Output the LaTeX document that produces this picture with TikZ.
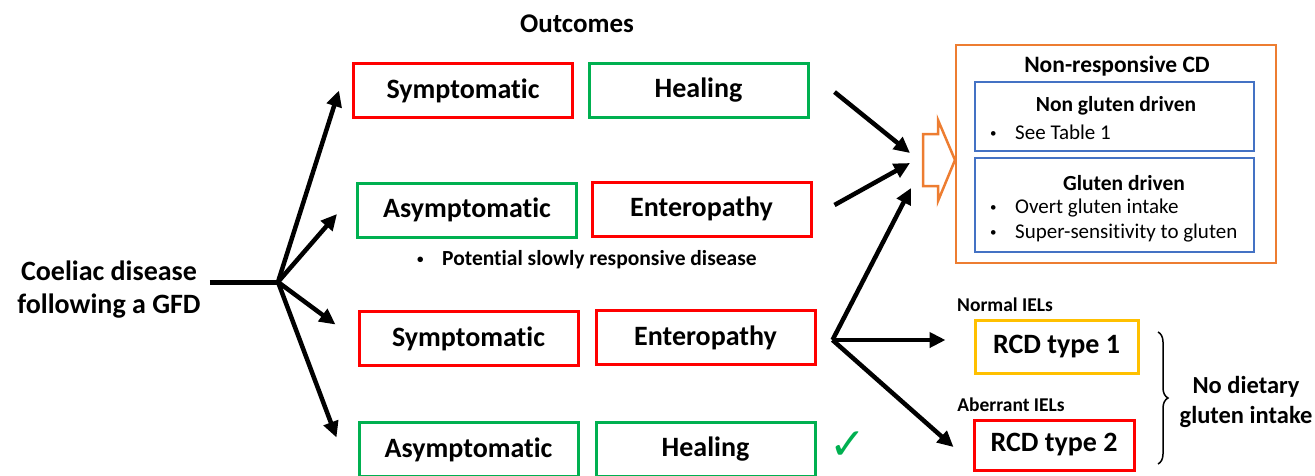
\documentclass[tikz,border=0pt]{standalone}
\usepackage{fontspec}
\setmainfont{Carlito}[Ligatures=NoCommon]
\newfontfamily\checkfont{DejaVu Sans}
\usetikzlibrary{arrows.meta,decorations.pathreplacing}
\definecolor{cdred}{RGB}{255,0,0}
\definecolor{cdgreen}{RGB}{0,176,80}
\definecolor{cdorange}{RGB}{237,125,49}
\definecolor{cdblue}{RGB}{68,114,196}
\definecolor{cdgold}{RGB}{255,192,0}
\newcommand{\bigbf}{\fontsize{28}{33}\selectfont\bfseries}
\newcommand{\midbf}{\fontsize{21.5}{26}\selectfont\bfseries}
\newcommand{\smallrm}{\fontsize{21}{25}\selectfont}
\newcommand{\bulletline}[1]{\makebox[26pt][l]{\hspace{1pt}\raisebox{2pt}{\fontsize{13}{13}\selectfont\textbullet}}#1}

\tikzset{
  outbox/.style={draw, line width=3, minimum width=219, minimum height=54, inner sep=0, font=\bigbf},
  redbox/.style={outbox, draw=cdred},
  greenbox/.style={outbox, draw=cdgreen},
  bluebox/.style={draw=cdblue, line width=2.5, minimum width=279, inner sep=0},
  arr/.style={line width=4.5, -{Triangle[length=16, width=15]}},
  label/.style={inner sep=0, font=\midbf}
}

\begin{document}
\begin{tikzpicture}[x=1pt, y=-1pt]
\useasboundingbox (0,0) rectangle (1315,475);

% start and the four outcomes
\node[inner sep=0, align=center, font=\bigbf] (coel) at (109,290) {Coeliac disease\\following a GFD};
\coordinate (fork) at (278,282);
\node[font=\fontsize{27}{32}\selectfont\bfseries, inner sep=0] (outc) at (577,24) {Outcomes};

\node[redbox] (sym1) at (463,90.5) {Symptomatic};
\node[greenbox] (heal1) at (698.5,90.5) {Healing};
\node[greenbox] (asym2) at (467,210) {Asymptomatic};
\node[redbox] (ent2) at (701.5,209) {Enteropathy};
\node[font=\midbf, inner sep=0, anchor=west] (pot) at (416,260) {\bulletline{Potential slowly responsive disease}};
\node[redbox] (sym3) at (468.5,338.5) {Symptomatic};
\node[redbox] (ent3) at (705.5,337.5) {Enteropathy};
\node[greenbox] (asym4) at (468.5,449.5) {Asymptomatic};
\node[greenbox] (heal4) at (705.5,449.5) {Healing};
\node[text=cdgreen, font=\checkfont\fontsize{44}{44}\selectfont, inner sep=0] (tick) at (848,446) {✓};

\draw[line width=5] ([xshift=9]coel.east |- fork) -- (fork);
\draw[arr] (fork) -- ([xshift=-13]sym1.west);
\draw[arr] (fork) -- ([xshift=-19,yshift=-4]asym2.west);
\draw[arr] (fork) -- ([xshift=-22,yshift=14]sym3.west);
\draw[arr] (fork) -- ([xshift=-21,yshift=12]asym4.west);

% non-responsive CD
\node[draw=cdorange, line width=2.5, minimum width=320, minimum height=218] (nrcd) at (1116,154) {};
\node[label, font=\fontsize{23.5}{28}\selectfont\bfseries] (nrtitle) at (1117,66) {Non-responsive CD};
\node[bluebox, minimum height=69] (ngd) at (1114.5,116.5) {};
\node[label] (ngdt) at (1116,106) {Non gluten driven};
\node[inner sep=0, anchor=west, font=\smallrm] (ngd1) at (989,132) {\bulletline{See Table 1}};
\node[bluebox, minimum height=94] (gd) at (1114.5,205) {};
\node[label] (gdt) at (1124,183) {Gluten driven};
\node[inner sep=0, anchor=west, font=\smallrm] (gd1) at (989,208) {\bulletline{Overt gluten intake}};
\node[inner sep=0, anchor=west, font=\smallrm] (gd2) at (989,233) {\bulletline{Super-sensitivity to gluten}};
\draw[cdorange, line width=2.5] (923,134) -- (938,134) -- (938,120) -- (955,160)
  -- (938,201) -- (938,186) -- (923,186) -- cycle;

\coordinate (in1) at (910,153);
\coordinate (in2) at (910,163);
\coordinate (in3) at (911,188);
\coordinate (fork2) at ([xshift=16,yshift=-2.5]ent3.east);
\draw[arr] ([xshift=25,yshift=-1.5]heal1.east) -- (in1);
\draw[arr] ([xshift=22,yshift=4]ent2.east) -- (in2);

% refractory CD
\node[draw=cdgold, line width=3, minimum width=163, minimum height=53, inner sep=0, font=\bigbf] (rcd1) at (1056.5,346.5) {RCD type 1};
\node[draw=cdred, line width=3, minimum width=160, minimum height=50, inner sep=0, font=\bigbf] (rcd2) at (1054,445) {RCD type 2};
\node[label, font=\fontsize{19.5}{23}\selectfont\bfseries] (niel) at (1005,305) {Normal IELs};
\node[label, font=\fontsize{19.5}{23}\selectfont\bfseries] (aiel) at (1011,405) {Aberrant IELs};
\draw[arr] (fork2) -- (in3);
\draw[arr] (fork2) -- ([xshift=-28,yshift=6.5]rcd1.west);
\draw[arr] (fork2) -- ([xshift=-19,yshift=-2]rcd2.west);

\draw[line width=1.5, decorate, decoration={brace, amplitude=10}] (1158,332) -- (1158,464);
\node[inner sep=0, align=center, font=\fontsize{24.5}{30}\selectfont\bfseries] (nodiet) at (1246,402) {No dietary\\gluten intake};
\end{tikzpicture}
\end{document}
